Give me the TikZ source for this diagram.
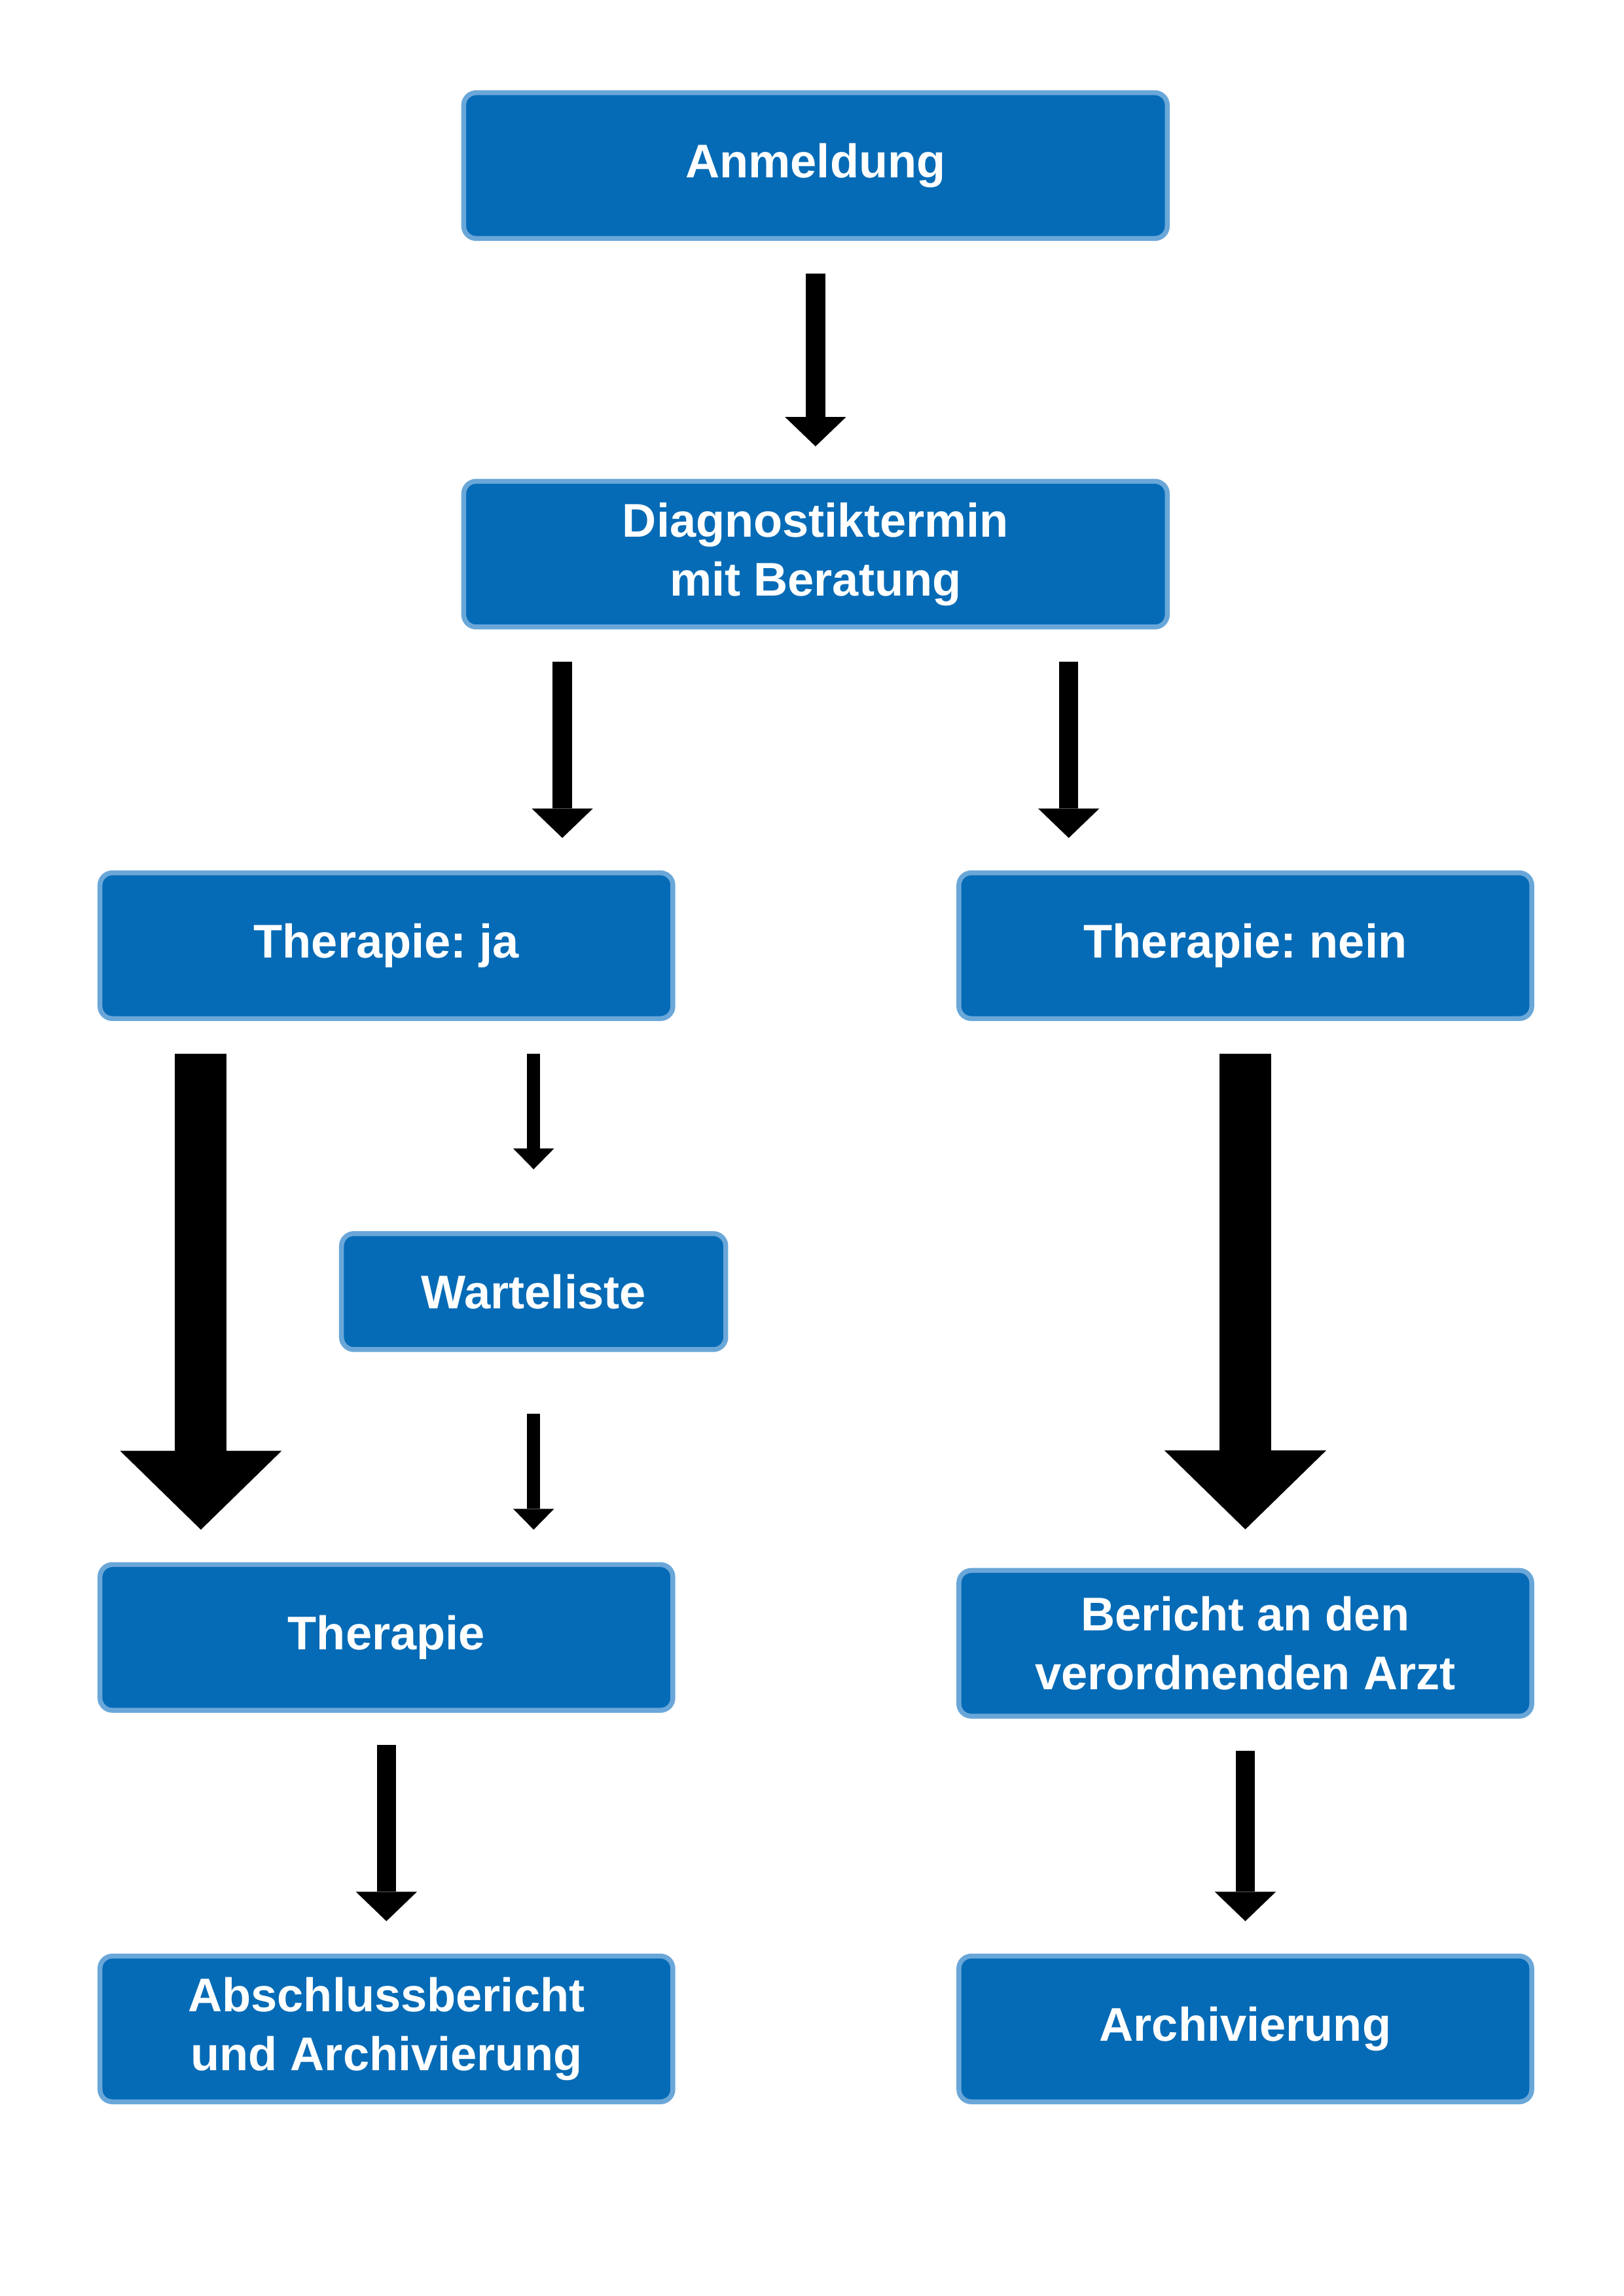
\documentclass[tikz,border=0pt]{standalone}
\usepackage{fontspec}
\setmainfont{Liberation Sans}
\usepackage[HTML]{xcolor}
\usetikzlibrary{positioning, arrows.meta}
\definecolor{boxblue}{HTML}{066BB6}
\definecolor{boxedge}{HTML}{6AA7D9}
\frenchspacing

\begin{document}
\begin{tikzpicture}[
  box/.style={draw=boxedge, line width=1.8pt, fill=boxblue, rounded corners=0.16cm,
    text=white, align=center, font=\fontsize{17.4}{21.7}\selectfont\bfseries,
    minimum width=9.1cm, minimum height=1.885cm, inner sep=0pt},
  halfbox/.style={box, minimum width=7.41cm},
  waitbox/.style={box, minimum width=4.97cm, minimum height=1.5cm},
  arr/.style={line width=0.25cm, -{Triangle[width=0.79cm, length=0.38cm, line width=0pt]},
    shorten <=0.42cm, shorten >=0.42cm},
  thinarr/.style={line width=0.172cm, -{Triangle[width=0.53cm, length=0.27cm, line width=0pt]},
    shorten <=0.42cm, shorten >=0.42cm},
  fatarr/.style={line width=0.667cm, -{Triangle[width=2.09cm, length=1.02cm, line width=0pt]},
    shorten <=0.42cm, shorten >=0.42cm}
]
\useasboundingbox (0,0) rectangle (21,-29.7);

\node[box] (anm) at (10.548,-2.142) {Anmeldung};
\node[box] (diag) at (10.548,-7.168) {Diagnostiktermin\\mit Beratung};
\node[halfbox] (ja) at (4.998,-12.233) {Therapie: ja};
\node[halfbox] (nein) at (16.107,-12.233) {Therapie: nein};
\node[waitbox] (wart) at (6.902,-16.707) {Warteliste};
\node[halfbox] (ther) at (4.998,-21.181) {Therapie};
\node[halfbox] (ber) at (16.107,-21.257) {Bericht an den\\verordnenden Arzt};
\node[halfbox] (absch) at (4.998,-26.245) {Abschlussbericht\\und Archivierung};
\node[halfbox] (arch) at (16.107,-26.245) {Archivierung};

\draw[arr] (anm) -- (diag);
\draw[arr] ([xshift=-3.275cm]diag.south) -- ([xshift=-3.275cm]diag.south |- ja.north);
\draw[arr] ([xshift=3.275cm]diag.south) -- ([xshift=3.275cm]diag.south |- nein.north);
\draw[fatarr] ([xshift=-2.4cm]ja.south) -- ([xshift=-2.4cm]ja.south |- ther.north);
\draw[thinarr, shorten >=0.8cm] (ja.south -| wart) -- (wart);
\draw[thinarr, shorten <=0.8cm] (wart) -- (ther.north -| wart);
\draw[fatarr, shorten >=0.5cm] (nein) -- (ber);
\draw[arr] (ther) -- (absch);
\draw[arr] (ber) -- (arch);
\end{tikzpicture}
\end{document}
